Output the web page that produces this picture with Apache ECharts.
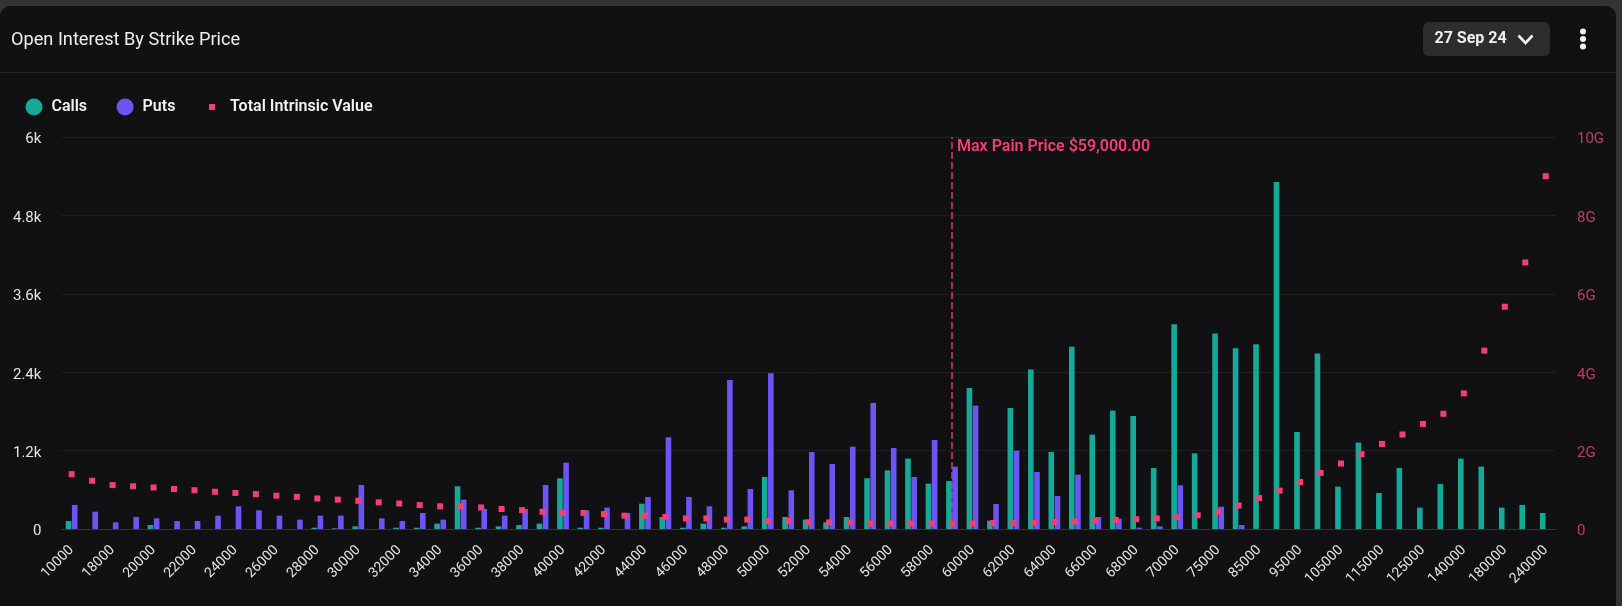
<!DOCTYPE html>
<html>
<head>
<meta charset="utf-8">
<title>Open Interest By Strike Price</title>
<style>
  html, body { margin: 0; padding: 0; background: #333; }
  #chart { width: 1622px; height: 606px; }
</style>
<script src="https://cdn.jsdelivr.net/npm/echarts@6/dist/echarts.min.js"></script>
</head>
<body>
<div id="chart"></div>
<script>
const strikes = [
  '10000', '16000', '18000', '19000', '20000', '21000', '22000', '23000', '24000', '25000',
  '26000', '27000', '28000', '29000', '30000', '31000', '32000', '33000', '34000', '35000',
  '36000', '37000', '38000', '39000', '40000', '41000', '42000', '43000', '44000', '45000',
  '46000', '47000', '48000', '49000', '50000', '51000', '52000', '53000', '54000', '55000',
  '56000', '57000', '58000', '59000', '60000', '61000', '62000', '63000', '64000', '65000',
  '66000', '67000', '68000', '69000', '70000', '72000', '75000', '80000', '85000', '90000',
  '95000', '100000', '105000', '110000', '115000', '120000', '125000', '130000', '140000', '160000',
  '180000', '200000', '240000'
];

const calls = [
  122, 0, 0, 0, 61, 0, 0, 0, 0, 0,
  0, 0, 20, 10, 41, 0, 20, 20, 82, 654,
  20, 41, 61, 82, 776, 20, 20, 0, 388, 184,
  20, 82, 20, 41, 797, 184, 143, 102, 184, 776,
  898, 1077, 694, 735, 2160, 128, 1853, 2440, 1180, 2788,
  1445, 1812, 1730, 934, 3135, 1159, 2992, 2767, 2829, 5310,
  1486, 2686, 648, 1322, 551, 934, 327, 689, 1077, 955,
  327, 368, 245
];

const puts = [
  368, 265, 102, 184, 163, 122, 122, 204, 347, 286,
  204, 143, 204, 204, 674, 163, 122, 245, 143, 449,
  306, 204, 306, 674, 1016, 286, 327, 245, 490, 1404,
  490, 347, 2282, 613, 2385, 592, 1178, 995, 1260, 1930,
  1240, 796, 1363, 955, 1889, 383, 1200, 873, 505, 832,
  184, 158, 20, 41, 669, 0, 342, 61, 0, 0,
  0, 0, 0, 0, 0, 0, 0, 0, 0, 0,
  0, 0, 0
];

// total intrinsic value, in G
const intrinsicG = [
  1.40, 1.23, 1.12, 1.09, 1.06, 1.02, 0.99, 0.95, 0.92, 0.89,
  0.85, 0.82, 0.78, 0.75, 0.72, 0.68, 0.65, 0.61, 0.58, 0.58,
  0.55, 0.51, 0.48, 0.44, 0.41, 0.41, 0.38, 0.34, 0.34, 0.31,
  0.27, 0.27, 0.24, 0.24, 0.20, 0.20, 0.17, 0.17, 0.17, 0.14,
  0.14, 0.14, 0.14, 0.14, 0.14, 0.15, 0.15, 0.16, 0.18, 0.19,
  0.21, 0.23, 0.25, 0.27, 0.30, 0.35, 0.44, 0.60, 0.79, 0.98,
  1.20, 1.43, 1.67, 1.91, 2.17, 2.41, 2.68, 2.94, 3.46, 4.55,
  5.67, 6.80, 9.00
];

const maxPainStrike = '59000';
const maxPainLabel = 'Max Pain Price $59,000.00';
const expiry = '27 Sep 24';

const FONT = 'Roboto';
const PINK = '#f43f70';

const myChart = echarts.init(document.getElementById('chart'));

myChart.setOption({
  backgroundColor: '#333333',
  animation: false,
  textStyle: { fontFamily: FONT },
  title: {
    text: 'Open Interest By Strike Price',
    left: 6,
    top: 26,
    textStyle: { color: '#eeeeee', fontSize: 18.2, fontWeight: 400, fontFamily: FONT }
  },
  legend: [
    {
      data: ['Calls', 'Puts'],
      left: 20.5,
      top: 93.5,
      icon: 'circle',
      itemWidth: 17,
      itemHeight: 17,
      itemGap: 29.5,
      textStyle: { color: '#f2f2f2', fontSize: 16, fontWeight: 600, fontFamily: FONT, padding: [0, 0, 0, 4] }
    },
    {
      data: ['Total Intrinsic Value'],
      left: 204,
      top: 94,
      icon: 'rect',
      itemWidth: 6,
      itemHeight: 6,
      textStyle: { color: '#f2f2f2', fontSize: 16, fontWeight: 600, fontFamily: FONT, padding: [0, 0, 0, 10] }
    }
  ],
  grid: { left: 61.4, right: 66, top: 137, bottom: 77, containLabel: false },
  xAxis: {
    type: 'category',
    data: strikes,
    axisLine: { lineStyle: { color: '#333333' } },
    axisTick: { show: false },
    axisLabel: {
      interval: 1,
      rotate: 45,
      margin: 19,
      color: '#e4e4e4',
      fontSize: 14,
      fontFamily: FONT
    },
    splitLine: { show: false }
  },
  yAxis: [
    {
      type: 'value',
      min: 0,
      max: 6000,
      interval: 1200,
      axisLine: { show: false },
      axisTick: { show: false },
      axisLabel: {
        margin: 20,
        formatter: v => '{t|' + (v === 0 ? '0' : v / 1000 + 'k') + '}',
        rich: { t: { color: '#e4e4e4', fontSize: 15, fontFamily: FONT, padding: [5.4, 0, 0, 0] } }
      },
      splitLine: { lineStyle: { color: '#1f1f1f' } }
    },
    {
      type: 'value',
      min: 0,
      max: 10,
      interval: 2,
      position: 'right',
      axisLine: { show: false },
      axisTick: { show: false },
      axisLabel: {
        margin: 21,
        formatter: v => '{t|' + (v === 0 ? '0' : v + 'G') + '}',
        rich: { t: { color: '#c23a63', fontSize: 15, fontFamily: FONT, padding: [5.4, 0, 0, 0] } }
      },
      splitLine: { show: false }
    }
  ],
  series: [
    {
      name: 'Calls',
      type: 'bar',
      data: calls,
      barWidth: 5.6,
      barGap: '10%',
      itemStyle: { color: '#17a998' }
    },
    {
      name: 'Puts',
      type: 'bar',
      data: puts,
      barWidth: 5.6,
      itemStyle: { color: '#6b55f5' }
    },
    {
      name: 'Total Intrinsic Value',
      type: 'scatter',
      yAxisIndex: 1,
      data: intrinsicG,
      symbol: 'rect',
      symbolSize: 6,
      z: 5,
      itemStyle: { color: PINK, opacity: 1 },
      markLine: {
        silent: true,
        symbol: 'none',
        z: 1,
        data: [{ xAxis: maxPainStrike }],
        lineStyle: { color: '#e0356c', type: [7, 3], width: 1.5 },
        label: {
          show: true,
          formatter: maxPainLabel,
          position: 'insideEndBottom',
          distance: 2,
          rotate: 0,
          align: 'left',
          color: PINK,
          fontSize: 16,
          fontWeight: 600,
          fontFamily: FONT,
          padding: [0, 0, 0, 7]
        }
      }
    }
  ],
  graphic: [
    { type: 'rect', z: -10, shape: { x: 0, y: 6, width: 1616, height: 620, r: [10, 10, 0, 0] }, style: { fill: '#111113' } },
    { type: 'line', z: -9, shape: { x1: 0, y1: 72.5, x2: 1616, y2: 72.5 }, style: { stroke: '#262626', lineWidth: 1 } },
    { type: 'rect', z: -8, shape: { x: 1423, y: 22, width: 127, height: 34, r: 6 }, style: { fill: '#2d2d2f' } },
    { type: 'text', z: 10, x: 1434.5, y: 39, style: { text: expiry, fill: '#f0f0f0', fontSize: 16, fontWeight: 700, fontFamily: FONT, verticalAlign: 'middle' } },
    { type: 'polyline', z: 10, shape: { points: [[1518.5, 35.5], [1525.5, 43], [1532.5, 35.5]] }, style: { stroke: '#f0f0f0', lineWidth: 2.6, fill: 'none' } },
    { type: 'circle', z: 10, shape: { cx: 1583, cy: 31.5, r: 3 }, style: { fill: '#f2f2f2' } },
    { type: 'circle', z: 10, shape: { cx: 1583, cy: 39, r: 3 }, style: { fill: '#f2f2f2' } },
    { type: 'circle', z: 10, shape: { cx: 1583, cy: 46.5, r: 3 }, style: { fill: '#f2f2f2' } }
  ]
});

window.addEventListener('resize', function() {
  myChart.resize();
});
</script>
</body>
</html>
